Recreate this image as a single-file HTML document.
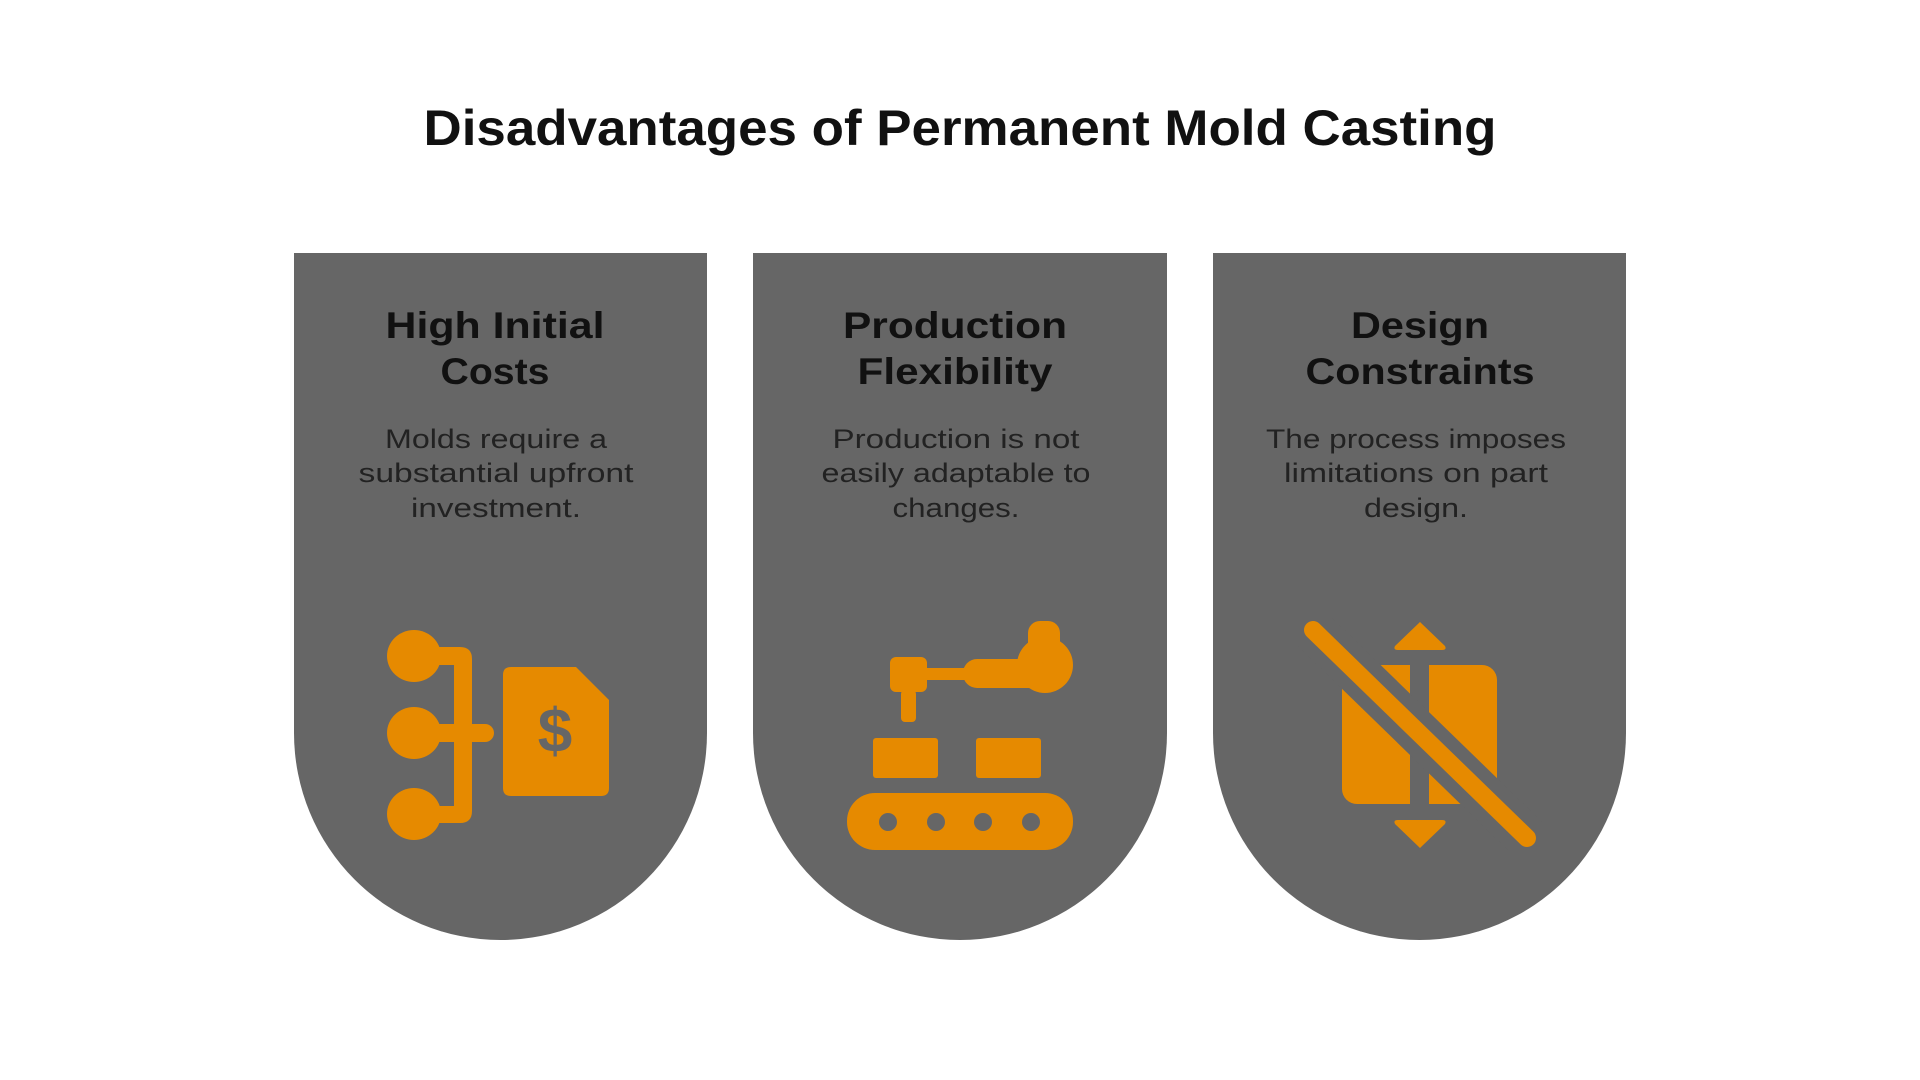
<!DOCTYPE html>
<html><head><meta charset="utf-8"><style>html,body{margin:0;padding:0;background:#fff}svg{display:block}</style></head>
<body>
<svg width="1920" height="1080" viewBox="0 0 1920 1080" xmlns="http://www.w3.org/2000/svg">
<rect width="1920" height="1080" fill="#fff"/>
<text x="960" y="145" text-anchor="middle" font-family="Liberation Sans, sans-serif" font-weight="bold" font-size="50" fill="#111" textLength="1073" lengthAdjust="spacingAndGlyphs">Disadvantages of Permanent Mold Casting</text>

<g fill="#666666">
<path d="M294 253 H707 V733 A206.5 207 0 0 1 294 733 Z"/>
<path d="M753 253 H1167 V733 A207 207 0 0 1 753 733 Z"/>
<path d="M1213 253 H1626 V733 A206.5 207 0 0 1 1213 733 Z"/>
</g>

<g font-family="Liberation Sans, sans-serif" font-weight="bold" font-size="37" fill="#111" text-anchor="middle" lengthAdjust="spacingAndGlyphs">
<text x="495" y="338" textLength="219" lengthAdjust="spacingAndGlyphs">High Initial</text>
<text x="495" y="384" textLength="109" lengthAdjust="spacingAndGlyphs">Costs</text>
<text x="955" y="338" textLength="224" lengthAdjust="spacingAndGlyphs">Production</text>
<text x="955" y="384" textLength="195" lengthAdjust="spacingAndGlyphs">Flexibility</text>
<text x="1420" y="338" textLength="138" lengthAdjust="spacingAndGlyphs">Design</text>
<text x="1420" y="384" textLength="229" lengthAdjust="spacingAndGlyphs">Constraints</text>
</g>
<g font-family="Liberation Sans, sans-serif" font-size="27" fill="#222" text-anchor="middle">
<text x="496" y="448" textLength="222" lengthAdjust="spacingAndGlyphs">Molds require a</text>
<text x="496" y="482" textLength="275" lengthAdjust="spacingAndGlyphs">substantial upfront</text>
<text x="496" y="517" textLength="170" lengthAdjust="spacingAndGlyphs">investment.</text>
<text x="956" y="448" textLength="247" lengthAdjust="spacingAndGlyphs">Production is not</text>
<text x="956" y="482" textLength="269" lengthAdjust="spacingAndGlyphs">easily adaptable to</text>
<text x="956" y="517" textLength="127" lengthAdjust="spacingAndGlyphs">changes.</text>
<text x="1416" y="448" textLength="300" lengthAdjust="spacingAndGlyphs">The process imposes</text>
<text x="1416" y="482" textLength="264" lengthAdjust="spacingAndGlyphs">limitations on part</text>
<text x="1416" y="517" textLength="104" lengthAdjust="spacingAndGlyphs">design.</text>
</g>

<!-- Icon 1 -->
<g fill="#E68A00">
<ellipse cx="414" cy="656" rx="27" ry="26"/>
<ellipse cx="414" cy="733" rx="27" ry="26"/>
<ellipse cx="414" cy="814" rx="27" ry="26"/>
<path d="M414 647 H460 Q472 647 472 659 V811 Q472 823 460 823 H414 V806 H454 V665 H414 Z"/>
<rect x="414" y="724" width="80" height="18" rx="9"/>
<path d="M511 667 H576 L609 700 V788 Q609 796 601 796 H511 Q503 796 503 788 V675 Q503 667 511 667 Z"/>
</g>
<text x="555" y="752" text-anchor="middle" font-family="Liberation Sans, sans-serif" font-weight="bold" font-size="62" fill="#666">$</text>

<!-- Icon 2 -->
<g fill="#E68A00">
<rect x="1028" y="621" width="32" height="46" rx="12"/>
<circle cx="1045" cy="665" r="28"/>
<rect x="963" y="659" width="84" height="29" rx="14"/>
<rect x="927" y="668" width="42" height="12"/>
<rect x="890" y="657" width="37" height="35" rx="6"/>
<rect x="901" y="690" width="15" height="32" rx="4"/>
<rect x="873" y="738" width="65" height="40" rx="3"/>
<rect x="976" y="738" width="65" height="40" rx="3"/>
<rect x="847" y="793" width="226" height="57" rx="28"/>
</g>
<g fill="#666">
<circle cx="888" cy="822" r="9"/><circle cx="936" cy="822" r="9"/><circle cx="983" cy="822" r="9"/><circle cx="1031" cy="822" r="9"/>
</g>

<!-- Icon 3 -->
<g fill="#E68A00">
<rect x="1342" y="665" width="155" height="139" rx="15"/>
<path d="M1420 622 L1445 646 Q1447 650 1442 650 H1398 Q1393 650 1395 646 Z"/>
<path d="M1420 848 L1445 824 Q1447 820 1442 820 H1398 Q1393 820 1395 824 Z"/>
</g>
<rect x="1410" y="660" width="19" height="150" fill="#666"/>
<line x1="1313" y1="630" x2="1527" y2="838" stroke="#666" stroke-width="44"/>
<line x1="1313" y1="630" x2="1527" y2="838" stroke="#E68A00" stroke-width="18" stroke-linecap="round"/>
</svg>
</body></html>
